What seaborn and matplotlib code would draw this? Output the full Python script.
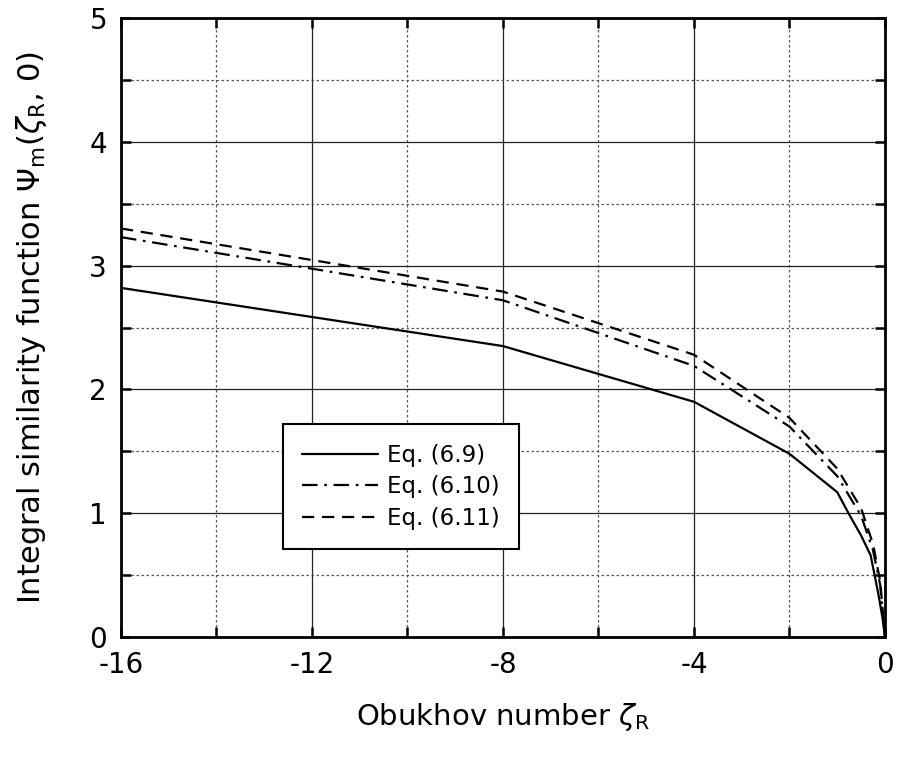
import numpy as np
import pandas as pd
import matplotlib
matplotlib.use("Agg")
import matplotlib.pyplot as plt
import seaborn as sns
from matplotlib.ticker import MultipleLocator

# Data
zeta_69 = [-16, -8, -4, -2, -1, -0.75, -0.5, -0.3, -0.14, -0.05, 0]
psi_69 = [2.82, 2.35, 1.90, 1.48, 1.17, 0.99, 0.82, 0.66, 0.35, 0.15, 0.0]

zeta_610 = [-16, -8, -4, -2, -1, -0.5, -0.25, -0.1, 0]
psi_610 = [3.23, 2.72, 2.19, 1.70, 1.30, 0.98, 0.70, 0.42, 0.0]

zeta_611 = [-16, -8, -4, -2, -1, -0.5, -0.25, -0.1, 0]
psi_611 = [3.30, 2.79, 2.28, 1.77, 1.36, 1.04, 0.75, 0.45, 0.0]

labels = ["Eq. (6.9)", "Eq. (6.10)", "Eq. (6.11)"]
xticks = [-16, -12, -8, -4, 0]
xticklabels = ["-16", "-12", "-8", "-4", "0"]

df = pd.concat([
    pd.DataFrame({"zeta": zeta_69, "psi": psi_69, "eq": labels[0]}),
    pd.DataFrame({"zeta": zeta_610, "psi": psi_610, "eq": labels[1]}),
    pd.DataFrame({"zeta": zeta_611, "psi": psi_611, "eq": labels[2]}),
])

sns.set_style("white")
plt.rcParams["font.family"] = ["DejaVu Sans"]
plt.rcParams["mathtext.fontset"] = "dejavusans"
plt.rcParams["text.color"] = "black"
plt.rcParams["axes.labelcolor"] = "black"
plt.rcParams["xtick.color"] = "black"
plt.rcParams["ytick.color"] = "black"

fig = plt.figure(figsize=(8.98, 7.59), dpi=100)
ax = fig.add_axes([0.1347, 0.1607, 0.8508, 0.8156])

sns.lineplot(data=df, x="zeta", y="psi", hue="eq", style="eq",
             palette=["black"] * 3,
             dashes={labels[0]: "", labels[1]: (7, 3, 1.2, 3), labels[2]: (5.5, 3.5)},
             linewidth=1.6, ax=ax, sort=False, legend=True)

ax.set_xlim(-16, 0)
ax.set_ylim(0, 5)
ax.set_xticks(xticks)
ax.set_xticklabels(xticklabels)
ax.xaxis.set_minor_locator(MultipleLocator(2))
ax.yaxis.set_major_locator(MultipleLocator(1))
ax.yaxis.set_minor_locator(MultipleLocator(0.5))

ax.grid(which="major", color="#222222", linestyle="-", linewidth=0.9)
ax.grid(which="minor", color="#555555", linestyle=(0, (2, 2)), linewidth=0.9)

ax.tick_params(which="both", direction="in", top=True, right=True,
               bottom=True, left=True, length=7, width=1.8, color="black",
               labelsize=20, pad=10, labelcolor="black")
for s in ax.spines.values():
    s.set_color("black")
    s.set_linewidth(2)

ax.set_xlabel(r"Obukhov number $\zeta_{\rm R}$", fontsize=21, labelpad=16)
ax.set_ylabel(r"Integral similarity function $\Psi_{\rm m}(\zeta_{\rm R}$, 0)",
              fontsize=22, labelpad=29)

leg = ax.legend(loc="upper left", bbox_to_anchor=(0.212, 0.344), fontsize=16.5,
                frameon=True, fancybox=False, handlelength=3.3, borderpad=0.85,
                labelspacing=0.38, handletextpad=0.4, borderaxespad=0)
leg.get_frame().set_edgecolor("black")
leg.get_frame().set_linewidth(1.5)
leg.get_frame().set_alpha(1)
leg.set_title(None)

fig.savefig("out.png", dpi=100)
